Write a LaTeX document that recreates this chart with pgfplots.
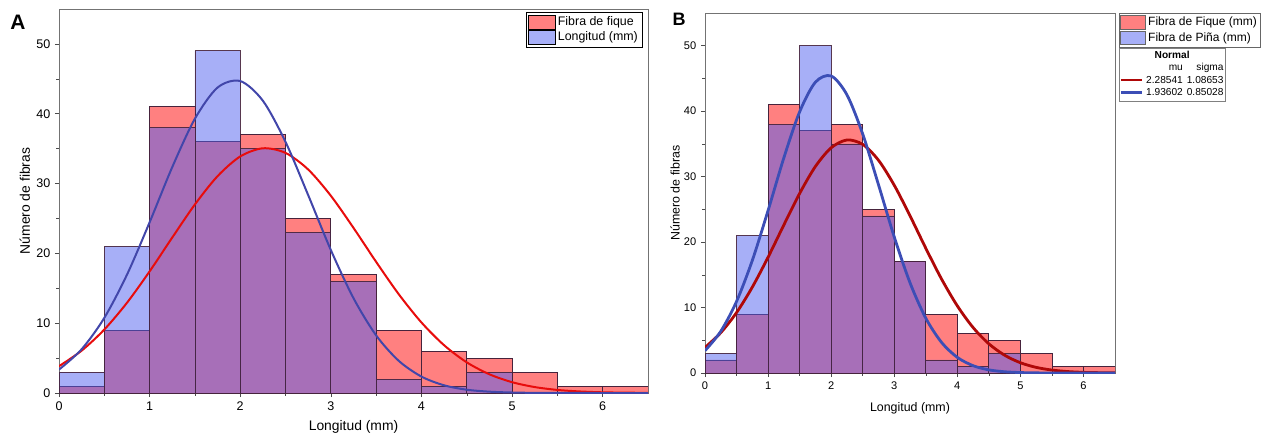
\documentclass[border=0pt]{standalone}
\usepackage{pgfplots}
\pgfplotsset{compat=1.18}
\usepackage{fontspec}
\setmainfont{Liberation Sans}
\definecolor{redfill}{RGB}{255,128,128}
\definecolor{bluefill}{RGB}{80,96,240}
\definecolor{redA}{RGB}{232,12,12}
\definecolor{blueA}{RGB}{66,70,170}
\definecolor{redB}{RGB}{175,8,8}
\definecolor{blueB}{RGB}{60,78,182}
\definecolor{edge}{RGB}{70,35,60}

\pgfplotsset{
  histstyle/.style={
    scale only axis, xmin=0, xmax=6.5, ymin=0, ymax=55,
    xtick={0,...,6}, ytick={0,10,...,50},
    minor x tick num=1, minor y tick num=1,
    tick align=outside, xtick pos=bottom, ytick pos=left,
    axis line style={black!55}, every tick/.style={black!70},
    major tick length=3pt, minor tick length=2pt,
    /pgf/number format/assume math mode=true,
    legend cell align=left,
  },
  redbars/.style={ybar interval, fill=redfill, draw=edge, line width=0.6pt, forget plot},
  bluebars/.style={ybar interval, fill=bluefill, fill opacity=0.5, draw=edge, draw opacity=0.9, line width=0.6pt, forget plot},
}

\begin{document}
\begin{tikzpicture}
\useasboundingbox (0pt,0pt) rectangle (945.75pt,327.75pt);

% ---------------- Panel A ----------------
\begin{axis}[histstyle,
  at={(44.25pt,33pt)}, anchor=south west, width=441.75pt, height=288pt,
  tick label style={font=\fontsize{9.4}{11}\selectfont},
  label style={font=\fontsize{10.4}{12}\selectfont},
  xlabel={Longitud (mm)}, ylabel={Número de fibras},
  xlabel style={at={(axis description cs:0.5,-0.088)}, anchor=center},
  ylabel style={at={(axis description cs:-0.058,0.5)}, anchor=center, rotate=0},
  legend image code/.code={\draw[#1] (0pt,-5.25pt) rectangle (20pt,5.25pt);},
  legend style={at={(rel axis cs:0.99,0.992)}, anchor=north east, draw=black,
    inner sep=1pt, row sep=-0.5pt, font=\fontsize{9.3}{11}\selectfont,
    /tikz/every even column/.append style={column sep=1pt}},
]
\addlegendimage{fill=redfill, draw=black}
\addlegendentry{Fibra de fique}
\addlegendimage{fill=bluefill, fill opacity=0.5, draw=black}
\addlegendentry{Longitud (mm)}

\addplot[redbars] coordinates {(0,1)(0.5,9)(1,41)(1.5,36)(2,37)(2.5,25)(3,17)(3.5,9)(4,6)(4.5,5)(5,3)(5.5,1)(6,1)(6.5,1)};
\addplot[bluebars] coordinates {(0,3)(0.5,21)(1,38)(1.5,49)(2,35)(2.5,23)(3,16)(3.5,2)(4,1)(4.5,3)(5,3)};

\addplot[redA, line width=1.5pt, smooth, forget plot] coordinates {
(0,3.84)(0.25,6.07)(0.5,9.09)(0.75,12.92)(1,17.42)(1.25,22.27)(1.5,27.01)(1.75,31.06)(2,33.88)(2.25,35.05)(2.5,34.39)(2.75,32.01)(3,28.25)(3.25,23.65)(3.5,18.78)(3.75,14.14)(4,10.10)(4.25,6.84)(4.5,4.39)(4.75,2.68)(5,1.55)(5.25,0.85)(5.5,0.44)(5.75,0.22)(6,0.10)(6.25,0.05)(6.5,0.02)};
\addplot[blueA, line width=1.5pt, smooth, forget plot] coordinates {
(0,3.35)(0.25,6.27)(0.5,10.76)(0.75,16.94)(1,24.45)(1.25,32.36)(1.5,39.29)(1.75,43.75)(2,44.68)(2.25,41.86)(2.5,35.96)(2.75,28.34)(3,20.48)(3.25,13.58)(3.5,8.25)(3.75,4.60)(4,2.35)(4.25,1.10)(4.5,0.47)(4.75,0.19)(5,0.07)(5.25,0.02)(5.5,0.01)(6,0)(6.5,0)};
\end{axis}

% ---------------- Panel B ----------------
\begin{axis}[histstyle,
  at={(528.75pt,48pt)}, anchor=south west, width=307.5pt, height=270pt,
  tick label style={font=\fontsize{8.3}{10}\selectfont},
  label style={font=\fontsize{9.3}{11}\selectfont},
  xlabel={Longitud (mm)}, ylabel={Número de fibras},
  xlabel style={at={(axis description cs:0.5,-0.097)}, anchor=center},
  ylabel style={at={(axis description cs:-0.073,0.5)}, anchor=center, rotate=0},
  legend image code/.code={\draw[#1] (0pt,-5pt) rectangle (18.5pt,5pt);},
  legend style={at={(rel axis cs:1.0098,1.0)}, anchor=north west, draw=black!60,
    inner sep=0.8pt, row sep=-0.5pt, font=\fontsize{9}{10.5}\selectfont,
    /tikz/every even column/.append style={column sep=0.5pt}},
]
\addlegendimage{fill=redfill, draw=black!60}
\addlegendentry{Fibra de Fique (mm)}
\addlegendimage{fill=bluefill, fill opacity=0.5, draw=black!60}
\addlegendentry{Fibra de Piña (mm)}

\addplot[redbars] coordinates {(0,2)(0.5,9)(1,41)(1.5,37)(2,38)(2.5,25)(3,17)(3.5,9)(4,6)(4.5,5)(5,3)(5.5,1)(6,1)(6.5,1)};
\addplot[bluebars] coordinates {(0,3)(0.5,21)(1,38)(1.5,50)(2,35)(2.5,24)(3,17)(3.5,2)(4,1)(4.5,3)(5,3)};

\addplot[redB, line width=2.1pt, smooth, forget plot] coordinates {
(0,3.90)(0.25,6.16)(0.5,9.23)(0.75,13.12)(1,17.69)(1.25,22.62)(1.5,27.43)(1.75,31.55)(2,34.41)(2.25,35.60)(2.5,34.93)(2.75,32.51)(3,28.69)(3.25,24.02)(3.5,19.07)(3.75,14.36)(4,10.26)(4.25,6.95)(4.5,4.46)(4.75,2.72)(5,1.57)(5.25,0.86)(5.5,0.45)(5.75,0.22)(6,0.10)(6.25,0.05)(6.5,0.02)};
\addplot[blueB, line width=2.1pt, smooth, forget plot] coordinates {
(0,3.41)(0.25,6.37)(0.5,10.93)(0.75,17.20)(1,24.83)(1.25,32.87)(1.5,39.90)(1.75,44.43)(2,45.38)(2.25,42.51)(2.5,36.52)(2.75,28.78)(3,20.80)(3.25,13.79)(3.5,8.38)(3.75,4.68)(4,2.39)(4.25,1.12)(4.5,0.48)(4.75,0.19)(5,0.07)(5.25,0.02)(5.5,0.01)(6,0)(6.5,0)};
\end{axis}

% Normal fit box
\node[draw=black!50, anchor=north west, inner sep=1.2pt, font=\fontsize{7.6}{9.3}\selectfont]
  at (839.25pt,291.75pt) {%
  \setlength{\tabcolsep}{1.5pt}%
  \begin{tabular}{@{}lrr@{}}
  \multicolumn{3}{c}{\textbf{Normal}}\\
  & mu & sigma\\
  \textcolor{redB}{\rule[0.35ex]{16pt}{2.1pt}} & 2.28541 & 1.08653\\
  \textcolor{blueB}{\rule[0.35ex]{16pt}{2.1pt}} & 1.93602 & 0.85028
  \end{tabular}};

% Panel letters
\node[font=\fontsize{15.7}{18}\selectfont\bfseries] at (13.5pt,311.25pt) {A};
\node[font=\fontsize{13.5}{16}\selectfont\bfseries] at (509.25pt,313.5pt) {B};
\end{tikzpicture}
\end{document}
